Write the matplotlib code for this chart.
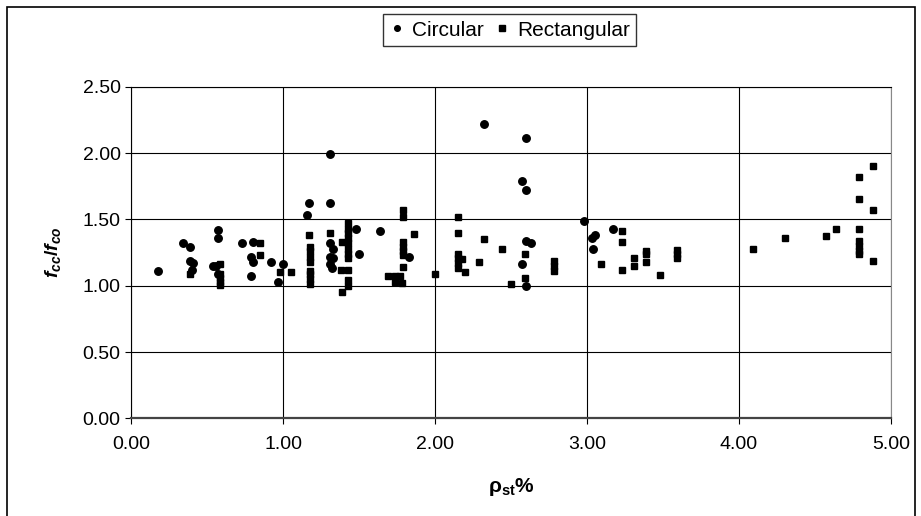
from matplotlib import pyplot as plt
from matplotlib.patches import Rectangle

plt.rcParams['font.family'] = ['Liberation Sans', 'DejaVu Sans']
plt.rcParams['mathtext.fontset'] = 'custom'
plt.rcParams['mathtext.it'] = 'Liberation Sans:italic:bold'
plt.rcParams['mathtext.rm'] = 'Liberation Sans:bold'
plt.rcParams['mathtext.bf'] = 'Liberation Sans:bold'

# circular columns
circ_x = [0.18, 0.34, 0.39, 0.39, 0.41, 0.40, 0.57, 0.57, 0.54, 0.56, 0.57,
          0.73, 0.80, 0.79, 0.80, 0.79, 0.92, 1.00, 0.97,
          1.31, 1.17, 1.31, 1.16, 1.31, 1.33, 1.31, 1.33, 1.31, 1.32,
          1.48, 1.50, 1.64, 1.83,
          2.32, 2.60, 2.57, 2.60, 2.98, 2.60, 2.63, 2.57, 2.60,
          3.03, 3.05, 3.04, 3.17]
circ_y = [1.11, 1.32, 1.29, 1.19, 1.17, 1.12, 1.42, 1.36, 1.15, 1.15, 1.09,
          1.32, 1.33, 1.22, 1.18, 1.07, 1.18, 1.16, 1.03,
          1.99, 1.62, 1.62, 1.53, 1.32, 1.28, 1.22, 1.21, 1.16, 1.13,
          1.43, 1.24, 1.41, 1.22,
          2.22, 2.11, 1.79, 1.72, 1.49, 1.34, 1.32, 1.16, 1.00,
          1.36, 1.38, 1.28, 1.43]

# rectangular columns
rect_x = [0.39, 0.585, 0.585, 0.585, 0.585, 0.585, 0.85, 0.85, 0.98, 1.05,
          1.17, 1.18, 1.18, 1.18, 1.18, 1.18, 1.18, 1.18, 1.18,
          1.31, 1.43, 1.43, 1.43, 1.43, 1.43, 1.43, 1.43, 1.43, 1.43, 1.43, 1.43,
          1.39, 1.38, 1.39,
          1.69, 1.74, 1.77, 1.74, 1.78,
          1.79, 1.79, 1.79, 1.79, 1.79, 1.79, 1.79, 1.86, 2.00,
          2.15, 2.15, 2.15, 2.15, 2.15, 2.15, 2.18, 2.20, 2.29, 2.32,
          2.44, 2.59, 2.59, 2.50, 2.785, 2.785, 2.785,
          3.09, 3.23, 3.23, 3.23, 3.31, 3.31, 3.39, 3.39, 3.39, 3.48,
          3.59, 3.59, 3.59, 4.09, 4.30, 4.57, 4.64,
          4.79, 4.79, 4.79, 4.79, 4.79, 4.79, 4.79, 4.88, 4.88, 4.88]
rect_y = [1.09, 1.16, 1.09, 1.06, 1.03, 1.005, 1.32, 1.23, 1.10, 1.10,
          1.38, 1.29, 1.26, 1.22, 1.18, 1.11, 1.09, 1.05, 1.01,
          1.40, 1.47, 1.43, 1.40, 1.36, 1.32, 1.28, 1.24, 1.21, 1.12, 1.04, 1.00,
          1.33, 1.12, 0.95,
          1.07, 1.07, 1.07, 1.03, 1.02,
          1.57, 1.52, 1.33, 1.29, 1.26, 1.23, 1.14, 1.39, 1.09,
          1.52, 1.40, 1.24, 1.21, 1.17, 1.13, 1.20, 1.10, 1.18, 1.35,
          1.28, 1.24, 1.06, 1.01, 1.19, 1.15, 1.11,
          1.16, 1.41, 1.33, 1.12, 1.21, 1.15, 1.26, 1.24, 1.18, 1.08,
          1.27, 1.24, 1.21, 1.28, 1.36, 1.375, 1.425,
          1.82, 1.65, 1.43, 1.34, 1.30, 1.26, 1.24, 1.90, 1.57, 1.19]

x_ticks = [0.0, 1.0, 2.0, 3.0, 4.0, 5.0]
y_ticks = [0.0, 0.5, 1.0, 1.5, 2.0, 2.5]

fig = plt.figure(figsize=(9.21, 5.16), dpi=100)
ax = fig.add_axes([131 / 921, 1 - 418.4 / 516, 760 / 921, 331.7 / 516])

ax.plot(circ_x, circ_y, linestyle='none', marker='o', markersize=5.4,
        color='black', label='Circular')
ax.plot(rect_x, rect_y, linestyle='none', marker='s', markersize=5,
        color='black', label='Rectangular')

ax.set_xlim(0, 5)
ax.set_ylim(0, 2.5)
ax.set_xticks(x_ticks)
ax.set_yticks(y_ticks)
ax.set_xticklabels(['%.2f' % v for v in x_ticks])
ax.set_yticklabels(['%.2f' % v for v in y_ticks])
ax.tick_params(labelsize=14, length=4, width=0.8, direction='out')
ax.tick_params(axis='x', pad=9)
ax.grid(True, color='black', linewidth=0.8)
ax.set_axisbelow(True)

ax.spines['left'].set_color('black')
ax.spines['top'].set_color('black')
ax.spines['right'].set_color('#888888')
ax.spines['bottom'].set_color('#444444')
ax.spines['bottom'].set_linewidth(1.6)

ax.set_ylabel(r'$f_{cc}/f_{co}$', fontsize=14, labelpad=14)
ax.set_xlabel(r'ρ$_{\mathbf{st}}$%', fontsize=15, fontweight='bold', labelpad=16)

fig.legend(loc='center', bbox_to_anchor=(509.5 / 921, 1 - 30 / 516), ncol=2,
           fontsize=15, frameon=True, fancybox=False, edgecolor='black',
           handletextpad=0.3, columnspacing=0.5, handlelength=0.8,
           borderpad=0.3, markerscale=0.75)

fig.patches.append(Rectangle((7 / 921, -0.05), 908 / 921, 1 - 7 / 516 + 0.05,
                             transform=fig.transFigure, fill=False,
                             edgecolor='black', linewidth=1.2))

fig.savefig('out.png', dpi=100)
